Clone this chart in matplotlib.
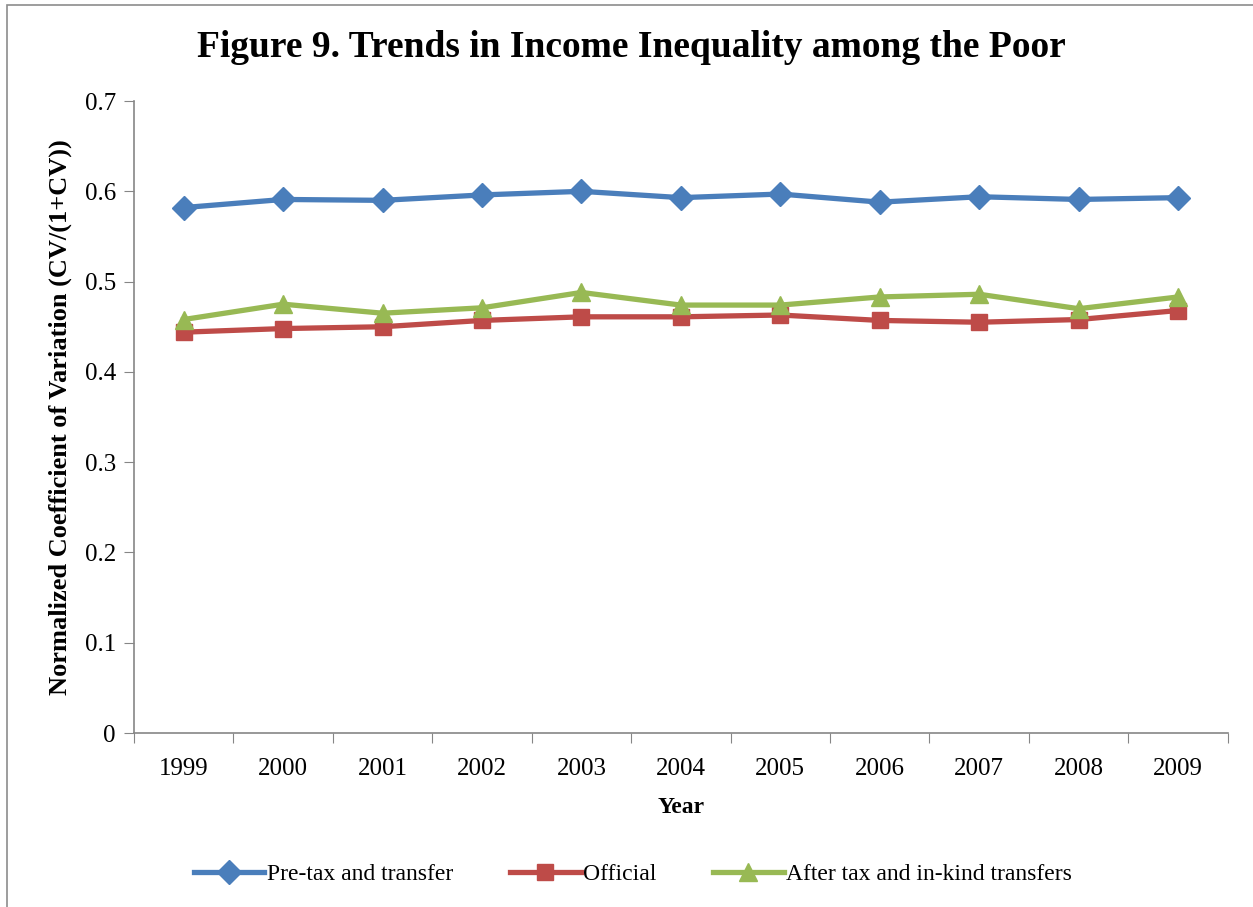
import matplotlib.pyplot as plt
import matplotlib.patches as patches
import numpy as np

years = ["1999", "2000", "2001", "2002", "2003", "2004", "2005", "2006", "2007", "2008", "2009"]
pre_tax = [0.582, 0.591, 0.590, 0.596, 0.600, 0.593, 0.597, 0.588, 0.594, 0.591, 0.593]
official = [0.444, 0.448, 0.450, 0.457, 0.461, 0.461, 0.463, 0.457, 0.455, 0.458, 0.468]
after_tax = [0.458, 0.475, 0.465, 0.471, 0.488, 0.474, 0.474, 0.483, 0.486, 0.470, 0.483]

plt.rcParams["font.family"] = ["Liberation Serif", "DejaVu Serif"]

fig = plt.figure(figsize=(12.53, 9.07), dpi=100)
ax = fig.add_axes([0.1069, 0.1918, 0.873, 0.6968])

# thin frame round the chart area like the excel export
fig.patches.append(patches.Rectangle((0.0056, -0.01), 1.2, 1.0045, transform=fig.transFigure,
                                     fill=False, edgecolor="#8c8c8c", linewidth=1.2))

x = np.arange(len(years))
ax.plot(x, pre_tax, color="#4A7EBB", linewidth=3.8, marker="D", markersize=12, label="Pre-tax and transfer")
ax.plot(x, official, color="#BE4B48", linewidth=3.8, marker="s", markersize=12, label="Official")
ax.plot(x, after_tax, color="#98B954", linewidth=3.8, marker="^", markersize=13, label="After tax and in-kind transfers")

ax.set_xlim(-0.5, len(years) - 0.5)
ax.set_ylim(0, 0.7)
ax.set_yticks(np.arange(0, 0.71, 0.1))
ax.set_yticklabels(["0", "0.1", "0.2", "0.3", "0.4", "0.5", "0.6", "0.7"], fontsize=18)

ax.set_xticks(np.arange(-0.5, len(years), 1.0))
ax.set_xticklabels([])
ax.set_xticks(x, minor=True)
ax.set_xticklabels(years, minor=True, fontsize=18)
ax.tick_params(axis="x", which="minor", length=0, pad=18)
ax.tick_params(axis="x", which="major", length=7, color="#868686")
ax.tick_params(axis="y", length=7, color="#868686", pad=6)

for s in ["top", "right"]:
    ax.spines[s].set_visible(False)
for s in ["left", "bottom"]:
    ax.spines[s].set_color("#868686")
    ax.spines[s].set_linewidth(1.2)

ax.set_xlabel("Year", fontsize=17, fontweight="bold", labelpad=12)
ax.set_ylabel("Normalized Coefficient of Variation (CV/(1+CV))", fontsize=19, fontweight="bold", labelpad=9)
fig.text(0.504, 0.948, "Figure 9. Trends in Income Inequality among the Poor", fontsize=27,
         fontweight="bold", ha="center", va="center")

fig.legend(loc="center", bbox_to_anchor=(0.505, 0.036), ncol=3, frameon=False, fontsize=17,
           handlelength=3.0, handletextpad=0.1, columnspacing=2.4)

plt.savefig("out.png", dpi=100)
